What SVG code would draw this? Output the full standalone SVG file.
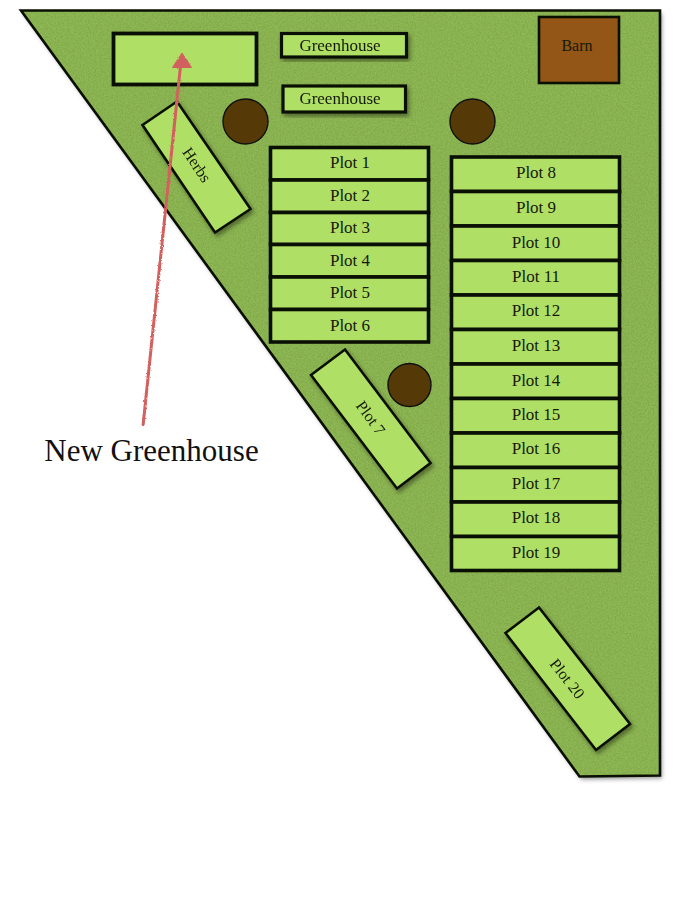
<svg xmlns="http://www.w3.org/2000/svg" width="700" height="906" viewBox="0 0 700 906">
<style>
.bed{fill:#b0df66;stroke:#0a0f04;stroke-width:3.2}
.plot{fill:#b0df66;stroke:#0a0f04;stroke-width:3.6}
.thin{fill:#b0df66;stroke:#0a0f04;stroke-width:2.6}
.tree{fill:#553a07;stroke:#111;stroke-width:1.4}
text{font-family:"Liberation Serif",serif;fill:#141a0a;text-anchor:middle;font-size:17px}
text.rot,text.barn{font-size:16px}
</style>
<defs>
<filter id="grass" x="0" y="0" width="100%" height="100%" color-interpolation-filters="sRGB">
<feTurbulence type="fractalNoise" baseFrequency="0.6" numOctaves="3" seed="4" result="n"/>
<feColorMatrix in="n" type="matrix" values="0 0 0 0 0.47  0 0 0 0 0.62  0 0 0 0 0.24  1.3 0 0 0 -0.45" result="c"/>
<feComposite in="c" in2="SourceGraphic" operator="in" result="t"/>
<feMerge><feMergeNode in="SourceGraphic"/><feMergeNode in="t"/></feMerge>
</filter>
<filter id="shadow" x="-20%" y="-20%" width="140%" height="140%" color-interpolation-filters="sRGB">
<feDropShadow dx="2" dy="3" stdDeviation="2" flood-color="#000" flood-opacity="0.4"/>
</filter>
<filter id="rough" x="-20%" y="-5%" width="140%" height="110%">
<feTurbulence type="fractalNoise" baseFrequency="0.6" numOctaves="2" seed="2"/>
<feDisplacementMap in="SourceGraphic" scale="2.500" xChannelSelector="R" yChannelSelector="G"/>
</filter>
</defs>

<g id="field">
<polygon points="21,10.500 660,10.500 660,775.500 579.500,776.500" fill="#000" filter="url(#shadow)"/>
<polygon points="21,10.500 660,10.500 660,775.500 579.500,776.500" fill="#8eb755" filter="url(#grass)"/>
<polygon points="21,10.500 660,10.500 660,775.500 579.500,776.500" fill="none" stroke="#0a0f04" stroke-width="2.600"/>
</g>

<g id="new-greenhouse"><rect class="bed" x="113.500" y="33.500" width="143" height="51" style="stroke-width:3.800"/></g>
<g id="greenhouse-1" filter="url(#shadow)"><rect class="bed" x="281.500" y="33.500" width="125" height="23.500"/><text x="340" y="51">Greenhouse</text></g>
<g id="greenhouse-2" filter="url(#shadow)"><rect class="bed" x="283" y="86" width="122.500" height="26"/><text x="340" y="104">Greenhouse</text></g>
<g id="barn"><rect x="539" y="17" width="80" height="66" fill="#935616" stroke="#0a0f04" stroke-width="2.600"/><text class="barn" x="577" y="51">Barn</text></g>

<g id="tree-1"><circle class="tree" cx="245.500" cy="121.500" r="22.500"/></g>
<g id="tree-2"><circle class="tree" cx="472.500" cy="121.500" r="22.500"/></g>
<g id="tree-3"><circle class="tree" cx="409.500" cy="385" r="21.500"/></g>

<g id="herbs" filter="url(#shadow)"><polygon class="thin" points="142.500,125 177,101.500 250.500,209 215,232.500"/><text class="rot" transform="translate(196.500,165) rotate(56)" y="5">Herbs</text></g>
<g id="plot-7" filter="url(#shadow)"><polygon class="thin" points="311,375 345,349.500 430.500,463 397,488.500"/><text class="rot" transform="translate(370.500,418) rotate(54)" y="5">Plot 7</text></g>
<g id="plot-20" filter="url(#shadow)"><polygon class="thin" points="505.500,633 539,607.500 630,724 596,750"/><text class="rot" transform="translate(567,679) rotate(52)" y="5">Plot 20</text></g>

<g id="plot-1"><rect class="plot" x="270.500" y="147.500" width="158" height="32.500"/><text x="350" y="168">Plot 1</text></g>
<g id="plot-2"><rect class="plot" x="270.500" y="180" width="158" height="32.500"/><text x="350" y="201">Plot 2</text></g>
<g id="plot-3"><rect class="plot" x="270.500" y="212.500" width="158" height="32"/><text x="350" y="233">Plot 3</text></g>
<g id="plot-4"><rect class="plot" x="270.500" y="244.500" width="158" height="32.500"/><text x="350" y="265.500">Plot 4</text></g>
<g id="plot-5"><rect class="plot" x="270.500" y="277" width="158" height="32.500"/><text x="350" y="298">Plot 5</text></g>
<g id="plot-6"><rect class="plot" x="270.500" y="309.500" width="158" height="32.500"/><text x="350" y="330.500">Plot 6</text></g>

<g id="plot-8"><rect class="plot" x="451.500" y="157" width="168" height="34.500"/><text x="536" y="178">Plot 8</text></g>
<g id="plot-9"><rect class="plot" x="451.500" y="191.500" width="168" height="34.500"/><text x="536" y="213">Plot 9</text></g>
<g id="plot-10"><rect class="plot" x="451.500" y="226" width="168" height="34.500"/><text x="536" y="247.500">Plot 10</text></g>
<g id="plot-11"><rect class="plot" x="451.500" y="260.500" width="168" height="34.500"/><text x="536" y="281.500">Plot 11</text></g>
<g id="plot-12"><rect class="plot" x="451.500" y="295" width="168" height="34.500"/><text x="536" y="316">Plot 12</text></g>
<g id="plot-13"><rect class="plot" x="451.500" y="329.500" width="168" height="34.500"/><text x="536" y="350.500">Plot 13</text></g>
<g id="plot-14"><rect class="plot" x="451.500" y="364" width="168" height="34.500"/><text x="536" y="385.500">Plot 14</text></g>
<g id="plot-15"><rect class="plot" x="451.500" y="398.500" width="168" height="34.500"/><text x="536" y="419.500">Plot 15</text></g>
<g id="plot-16"><rect class="plot" x="451.500" y="433" width="168" height="34.500"/><text x="536" y="454">Plot 16</text></g>
<g id="plot-17"><rect class="plot" x="451.500" y="467.500" width="168" height="34.500"/><text x="536" y="488.500">Plot 17</text></g>
<g id="plot-18"><rect class="plot" x="451.500" y="502" width="168" height="34.500"/><text x="536" y="523">Plot 18</text></g>
<g id="plot-19"><rect class="plot" x="451.500" y="536.500" width="168" height="34"/><text x="536" y="557.500">Plot 19</text></g>

<g id="connectors" filter="url(#rough)">
<line x1="143" y1="426" x2="180.500" y2="66" stroke="#d2605f" stroke-width="3"/>
<polygon points="182,53 191.500,67.500 172.500,67.500" fill="#d2605f" stroke="#d2605f" stroke-width="1"/>
</g>
<g id="label"><text x="151.500" y="461" style="font-size:31px;fill:#111">New Greenhouse</text></g>
</svg>
